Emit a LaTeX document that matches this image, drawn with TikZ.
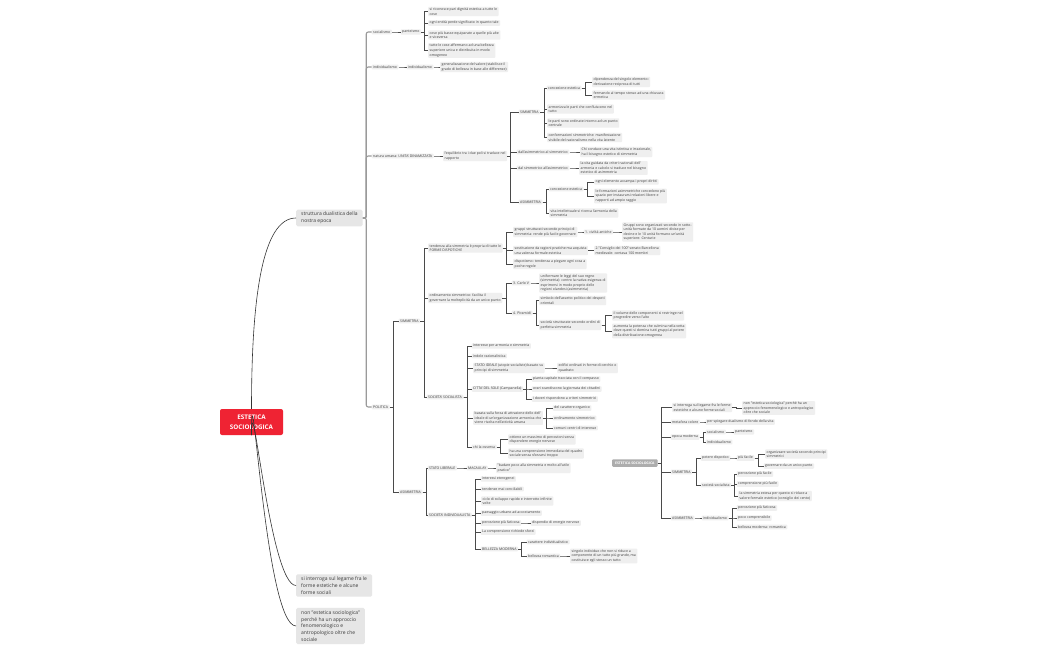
\documentclass[tikz,border=0pt]{standalone}
\usepackage{fontspec}
\setmainfont{Open Sans}
\definecolor{nodefill}{HTML}{EFEFEF}
\definecolor{midfill}{HTML}{E6E6E6}
\definecolor{txt}{HTML}{3A3A3A}
\definecolor{linec}{HTML}{4A4A4A}
\definecolor{topline}{HTML}{9A9A9A}
\definecolor{rootred}{HTML}{EF2333}
\definecolor{graynode}{HTML}{ADADAD}
\newcommand\kids[3][cn]{\foreach \k in {#3}{\draw[#1] (#2.east) -- ++(3.5,0) |- (\k.west);}}
\begin{document}
\begin{tikzpicture}[x=1pt,y=-1pt,
  lf/.style={fill=nodefill, rounded corners=0.8pt, inner xsep=1.5pt, inner ysep=1pt, anchor=west, text=txt, align=left, font=\fontsize{3.5}{4.6}\selectfont},
  md/.style={fill=midfill, rounded corners=1.5pt, inner xsep=5pt, inner ysep=2.5pt, anchor=west, text=txt, align=left, font=\fontsize{5}{6.8}\selectfont},
  cn/.style={draw=linec, line width=0.55pt},
  tl/.style={draw=topline, line width=1.1pt, rounded corners=2pt},
  crv/.style={draw=black!80, line width=0.6pt},
]
\fill[white] (0,0) rectangle (1050,650);
\useasboundingbox (0,0) rectangle (1050,650);

% root and first level
\node[fill=rootred, rounded corners=2pt, text=white, font=\bfseries\fontsize{6.3}{9.5}\selectfont, align=center, minimum width=63, minimum height=26, inner sep=1pt] (root) at (251.5,422) {ESTETICA\\SOCIOLOGICA};
\node[md] (sd) at (296,218) {struttura dualistica della\\nostra epoca};
\node[md] (si0) at (296,585.5) {si interroga sul legame fra le\\forme estetiche e alcune\\forme sociali};
\node[md] (ne0) at (296,626) {non "estetica sociologica"\\perché ha un approccio\\fenomenologico e\\antropologico oltre che\\sociale};
\draw[crv] (root.north) .. controls +(0,-110) and +(-34,0) .. (sd.west);
\draw[crv] (root.south) .. controls +(0,-65) and +(-26,0) .. (si0.west);
\draw[crv] (root.south) .. controls +(0,-95) and +(-31,0) .. (ne0.west);

% top group
\node[lf] (soc1) at (371.5,32) {socialismo};
\node[lf] (pan1) at (400.5,32) {panteismo};
\node[lf] (l1) at (428,11.5) {si riconosce pari dignità estetica a tutte le\\cose};
\node[lf] (l2) at (428,23) {ogni entità perde significato in quanto tale};
\node[lf] (l3) at (428,35) {cose più basse equiparate a quelle più alte\\e viceversa};
\node[lf] (l4) at (428,50.5) {tutte le cose affermano ad una bellezza\\superiore unica e distribuita in modo\\omogeneo};
\node[lf] (ind1) at (371.5,67) {individualismo};
\node[lf] (ind2) at (406.5,67) {individualismo};
\node[lf] (gen) at (440,67) {generalizzazione del valore (stabilisce il\\grado di bellezza in base alle differenze)};
\node[lf] (nat) at (371.5,156) {natura umana: UNITA' DINAMIZZATA};
\node[lf] (equ) at (443,156) {l'equilibrio tra i due poli si traduce nel\\rapporto};
\node[lf] (sim1) at (518.5,112) {SIMMETRIA};
\node[lf] (ce1) at (546.5,88) {concezione estetica};
\node[lf] (d1) at (592,82) {dipendenza del singolo elemento:\\derivazione reciproca di tutti};
\node[lf] (d2) at (592,95) {fermando al tempo stesso ad una chiusura\\ermetica};
\node[lf] (a1) at (547,109) {armonizza le parti che confluiscono nel\\tutto};
\node[lf] (a2) at (547,123) {le parti sono ordinate intorno ad un punto\\centrale};
\node[lf] (a3) at (547,137.5) {conformazioni simmetriche: manifestazione\\visibile del razionalismo nella vita latente};
\node[lf] (das) at (516.5,152) {dall'asimmetrico al simmetrico};
\node[lf] (chi) at (580,152) {Chi conduce una vita istintiva e irrazionale,\\ha il bisogno estetico di simmetria};
\node[lf] (dsa) at (516.5,168) {dal simmetrico all'asimmetrico};
\node[lf] (vgc) at (579,168) {la vita guidata da criteri razionali dell'\\armonia e calcolo si traduce nel bisogno\\estetico di asimmetria};
\node[lf] (asi1) at (518.5,202) {ASIMMETRIA};
\node[lf] (ce2) at (548.5,189) {concezione estetica};
\node[lf] (o1) at (594,182) {ogni elemento accampa i propri diritti};
\node[lf] (o2) at (594,196) {le formazioni asimmetriche concedono più\\spazio per instaurarsi relazioni libere e\\rapporti ad ampio raggio};
\node[lf] (vi) at (549,213) {vita intellettuale si ricerca l'armonia della\\simmetria};

% politica
\node[lf] (pol) at (371.5,407) {POLITICA};
\node[lf] (sim2) at (398.5,321) {SIMMETRIA};
\node[lf] (td) at (428,248) {tendenza alla simmetria è propria di tutte le\\FORME DISPOTICHE};
\node[lf] (gs) at (513,232) {gruppi strutturati secondo principi di\\simmetria: rende più facile governare};
\node[lf] (civ) at (583.5,232) {1. civiltà antiche};
\node[lf] (gso) at (622,232) {Gruppi sono organizzati secondo in sotto-\\unità formate da 10 uomini divise per\\decine e le 10 unità formano un'unità\\superiore: Centurie};
\node[lf] (nr) at (513,250.5) {sostituzione da ragioni pratiche ma acquista\\una valenza formale estetica};
\node[lf] (cons) at (594,250.5) {2."Consiglio dei 100" senato Barcellona\\medievale: contava 100 membri};
\node[lf] (dis) at (513,264) {dispotismo: tendenza a piegare ogni cosa a\\poche regole};
\node[lf] (os) at (428,298) {ordinamento simmetrico: facilita il\\governare la molteplicità da un unico punto};
\node[lf] (cv) at (511.5,283) {3. Carlo V};
\node[lf] (uni) at (539,283) {uniformare le leggi del suo regno\\(simmetria): contro la nativa esigenza di\\esprimersi in modo proprio delle\\regioni olandesi (asimmetria)};
\node[lf] (pir) at (511.5,313) {4. Piramidi};
\node[lf] (sym) at (539,300.5) {simbolo dell'assetto politico dei despoti\\orientali};
\node[lf] (sst) at (539,325) {società strutturate secondo ordini di\\perfetta simmetria};
\node[lf] (vol) at (612,315.5) {il volume delle componenti si restringe nel\\progredire verso l'alto};
\node[lf] (aum) at (612,331) {aumenta la potenza che culmina nella vetta\\dove questi si domina tutti gruppi al potere\\della distribuzione omogenea};
\node[lf] (ss) at (426.5,397) {SOCIETA' SOCIALISTA};
\node[lf] (ip) at (471.5,346) {interesse per armonia e simmetria};
\node[lf] (ir) at (471.5,356) {indole razionalistica};
\node[lf] (sti) at (473,368) {STATO IDEALE (utopie socialiste) basato su\\principi di simmetria};
\node[lf] (edi) at (557,368) {edifici ordinati in forme di cerchio o\\quadrato};
\node[lf] (cds) at (471.5,389) {CITTA' DEL SOLE (Campanella)};
\node[lf] (pc) at (531.5,379) {pianta capitale tracciata con il compasso};
\node[lf] (or) at (531.5,389) {orari scandiscono la giornata dei cittadini};
\node[lf] (dov) at (531.5,399) {i doveri rispondono a criteri simmetrici};
\node[lf] (bas) at (473,418) {basata sulla forza di attrazione dello dell'\\ideale di un'organizzazione armonica che\\viene risolta nell'attività umana};
\node[lf] (co) at (552.5,408) {del carattere organico};
\node[lf] (osim) at (552.5,418) {ordinamento simmetrico};
\node[lf] (cci) at (552.5,428) {comuni centri di interesse};
\node[lf] (chi2) at (471.5,447) {chi la osserva};
\node[lf] (ott) at (508,439.5) {ottiene un massimo di percezioni senza\\dispendere energie nervose};
\node[lf] (hau) at (508,453.5) {ha una comprensione immediata del quadro\\sociale senza sforzarsi troppo};
\node[lf] (asi2) at (398.5,492) {ASIMMETRIA};
\node[lf] (sl) at (427.5,468) {STATO LIBERALE};
\node[lf] (mac) at (466.5,468) {MACAULAY};
\node[lf] (bad) at (496,468) {"badare poco alla simmetria e molto all'utile\\pratico"};
\node[lf] (si) at (427.5,515) {SOCIETA' INDIVIDUALISTA};
\node[lf] (ie) at (480.5,479) {interessi eterogenei};
\node[lf] (tm) at (480.5,489) {tendenze mai conciliabili};
\node[lf] (cs) at (481,501) {ciclo di sviluppo rapido e interrotto infinite\\volte};
\node[lf] (pu) at (480.5,513) {paesaggio urbano ad accostamento};
\node[lf] (pf) at (480.5,523) {percezione più faticosa};
\node[lf] (de) at (530.5,523) {dispendio di energie nervose};
\node[lf] (lc) at (480.5,532) {La comprensione richiede sforzi};
\node[lf] (bm) at (480.5,549) {BELLEZZA MODERNA};
\node[lf] (ci) at (526.5,542) {carattere individualistico};
\node[lf] (br) at (526.5,556) {bellezza romantica};
\node[lf] (sin) at (570,556) {singolo individuo che non si riduce a\\componente di un tutto più grande, ma\\costituisce egli stesso un tutto};

% right section
\node[fill=graynode, text=white, font=\bfseries\fontsize{3.4}{4}\selectfont, inner xsep=3pt, inner ysep=2.5pt, anchor=west, rounded corners=1pt] (es2) at (612,463) {ESTETICA SOCIOLOGICA};
\node[lf] (r1) at (672,407.5) {si interroga sul legame fra le forme\\estetiche e alcune forme sociali};
\node[lf] (r1b) at (742,408) {non "estetica sociologica" perché ha un\\approccio fenomenologico e antropologico\\oltre che sociale};
\node[lf] (r2) at (670.5,422) {metafora colore};
\node[lf] (r2b) at (705.5,422) {per spiegare dualismo di fondo della vita};
\node[lf] (r3) at (670.5,437) {epoca moderna};
\node[lf] (r3a) at (705.5,432) {socialismo};
\node[lf] (r3a2) at (733.5,432) {panteismo};
\node[lf] (r3b) at (705.5,442) {individualismo};
\node[lf] (r4) at (670.5,472) {SIMMETRIA};
\node[lf] (r4a) at (700.5,458) {potere dispotico};
\node[lf] (r4a2) at (736.5,458) {più facile};
\node[lf] (r4a3) at (765,454) {organizzare società secondo principi\\simmetrici};
\node[lf] (r4a4) at (763.5,466) {governare da un unico punto};
\node[lf] (r4b) at (700.5,485) {società socialista};
\node[lf] (r4b1) at (736.5,474) {percezione più facile};
\node[lf] (r4b2) at (736.5,484) {comprensione più facile};
\node[lf] (r4b3) at (738,496) {la simmetria estesa per questo si riduce a\\valore formale estetico (consiglio dei cento)};
\node[lf] (r5) at (670.5,518) {ASIMMETRIA};
\node[lf] (r5a) at (701.5,518) {individualismo};
\node[lf] (r5a1) at (736.5,508) {percezione più faticosa};
\node[lf] (r5a2) at (736.5,518) {poco comprensibile};
\node[lf] (r5a3) at (736.5,527) {bellezza moderna: romantica};

% connectors
\kids[tl]{sd}{soc1,ind1,nat,pol}
\kids{soc1}{pan1}
\kids{pan1}{l1,l2,l3,l4}
\kids{ind1}{ind2}
\kids{ind2}{gen}
\kids{nat}{equ}
\kids{equ}{sim1,das,dsa,asi1}
\kids{sim1}{ce1,a1,a2,a3}
\kids{ce1}{d1,d2}
\kids{das}{chi}
\kids{dsa}{vgc}
\kids{asi1}{ce2,vi}
\kids{ce2}{o1,o2}
\kids{pol}{sim2,asi2}
\kids{sim2}{td,os,ss}
\kids{td}{gs,nr,dis}
\kids{gs}{civ}
\kids{civ}{gso}
\kids{nr}{cons}
\kids{os}{cv,pir}
\kids{cv}{uni}
\kids{pir}{sym,sst}
\kids{sst}{vol,aum}
\kids{ss}{ip,ir,sti,cds,bas,chi2}
\kids{sti}{edi}
\kids{cds}{pc,or,dov}
\kids{bas}{co,osim,cci}
\kids{chi2}{ott,hau}
\kids{asi2}{sl,si}
\kids{sl}{mac}
\kids{mac}{bad}
\kids{si}{ie,tm,cs,pu,pf,lc,bm}
\kids{pf}{de}
\kids{bm}{ci,br}
\kids{br}{sin}
\kids{es2}{r1,r2,r3,r4,r5}
\kids{r1}{r1b}
\kids{r2}{r2b}
\kids{r3}{r3a,r3b}
\kids{r3a}{r3a2}
\kids{r4}{r4a,r4b}
\kids{r4a}{r4a2}
\kids{r4a2}{r4a3,r4a4}
\kids{r4b}{r4b1,r4b2,r4b3}
\kids{r5}{r5a}
\kids{r5a}{r5a1,r5a2,r5a3}
\end{tikzpicture}
\end{document}
